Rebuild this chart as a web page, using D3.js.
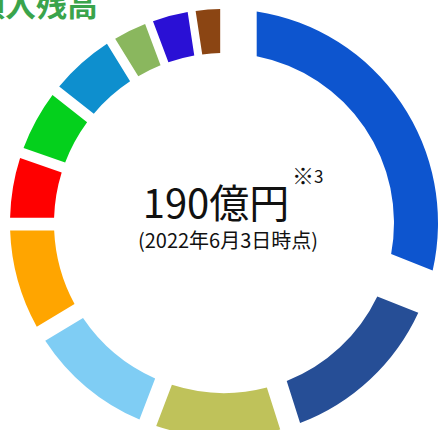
<!DOCTYPE html>
<html>
<head>
<meta charset="utf-8">
<script src="https://cdn.jsdelivr.net/npm/d3@7"></script>
<style>
  body { margin: 0; background: #fff; }
  text { font-family: "Noto Sans CJK JP", "Noto Sans", sans-serif; }
</style>
</head>
<body>
<script>
// share of the balance, clockwise from 12 o'clock (%)
var categories = ["A", "B", "C", "D", "E", "F", "G", "H", "I", "J", "K"];
var shares = [31.0, 14.1, 10.7, 10.6, 8.6, 5.3, 5.3, 5.6, 3.1, 3.3, 2.4];
var colors = ["#0d55cf", "#264e96", "#bfc25a", "#7fcdf4", "#ffa500", "#ff0000",
              "#04d01c", "#0e8fce", "#8ab75e", "#2a10d5", "#8b4513"];

var title = "預入残高";
var total = "190億円";
var noteMark = "※", noteNum = "3";
var asOf = "(2022年6月3日時点)";

var w = 439, h = 430;
var cx = 224, cy = 223, outerR = 214, innerR = 170;
var padR = (outerR + innerR) / 2;

var svg = d3.select("body").append("svg")
  .attr("width", w)
  .attr("height", h);

var data = categories.map(function(c, i){ return { name: c, value: shares[i] }; });

var pie = d3.pie()
  .sort(null)
  .value(function(d){ return d.value; });

var color = d3.scaleOrdinal().domain(categories).range(colors);

// the gaps get wider with the size of the slice
var halfGap = function(span){ return 2.8 + 6 * span + 4.8 * span * span; };

var arc = d3.arc()
  .innerRadius(innerR)
  .outerRadius(outerR)
  .padRadius(padR)
  .padAngle(function(d){
    return 2 * Math.asin(halfGap(d.endAngle - d.startAngle) / padR);
  });

svg.append("g")
  .attr("transform", "translate(" + cx + "," + cy + ")")
  .selectAll("path")
  .data(pie(data))
  .join("path")
  .attr("d", arc)
  .attr("fill", function(d){ return color(d.data.name); });

// title, cut off at the top left edge
svg.append("text")
  .attr("x", 98)
  .attr("y", 16)
  .attr("text-anchor", "end")
  .attr("font-size", 31)
  .attr("font-weight", "bold")
  .attr("fill", "#3aa44b")
  .text(title);

svg.append("text")
  .attr("x", 216)
  .attr("y", 218)
  .attr("text-anchor", "middle")
  .attr("font-size", 40)
  .attr("fill", "#111")
  .text(total);

var note = svg.append("text")
  .attr("x", 292)
  .attr("y", 184)
  .attr("fill", "#111");
note.append("tspan").attr("font-size", 22).text(noteMark);
note.append("tspan").attr("font-size", 17).attr("dy", -1.5).text(noteNum);

svg.append("text")
  .attr("x", 228)
  .attr("y", 248)
  .attr("text-anchor", "middle")
  .attr("font-size", 20)
  .attr("fill", "#111")
  .text(asOf);
</script>
</body>
</html>
